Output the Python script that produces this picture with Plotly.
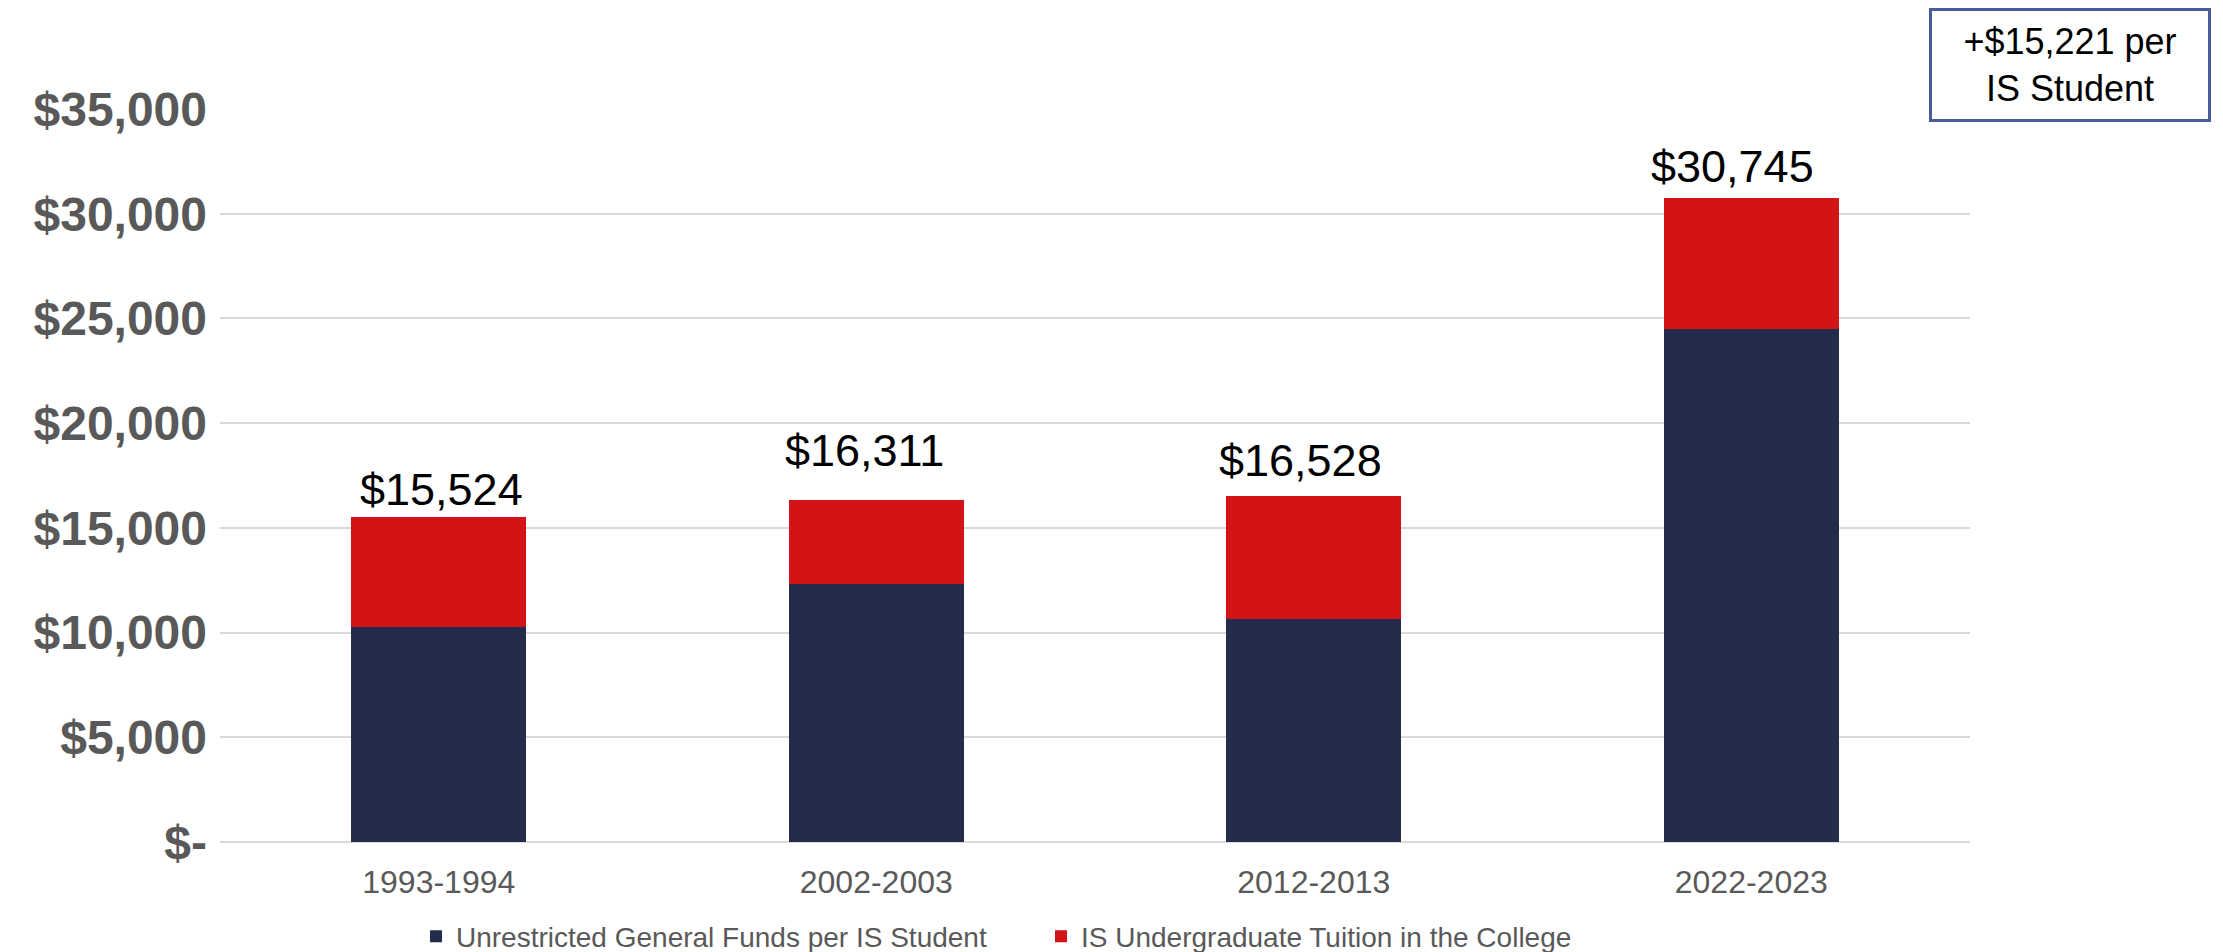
import plotly.graph_objects as go

categories = ["1993-1994", "2002-2003", "2012-2013", "2022-2023"]
general_funds = [10282, 12335, 10634, 24498]
tuition = [5242, 3976, 5894, 6247]
totals = [15524, 16311, 16528, 30745]
total_labels = ["$15,524", "$16,311", "$16,528", "$30,745"]
ytick_vals = [0, 5000, 10000, 15000, 20000, 25000, 30000, 35000]
ytick_text = ["$-", "$5,000", "$10,000", "$15,000", "$20,000", "$25,000", "$30,000", "$35,000"]
series_names = ["Unrestricted General Funds per IS Student", "IS Undergraduate Tuition in the College"]
callout_text = "+$15,221 per<br>IS Student"

# label offsets (style)
label_xshift = [3, -12, -13, -19]
label_yshift = [27, 50, 35, 32]

NAVY = "#242C4B"
RED = "#D21417"
FONT = "Liberation Sans, Arial, sans-serif"

fig = go.Figure()
fig.add_trace(go.Bar(x=categories, y=general_funds, name=series_names[0],
                     marker=dict(color=NAVY, line=dict(width=0))))
fig.add_trace(go.Bar(x=categories, y=tuition, name=series_names[1],
                     marker=dict(color=RED, line=dict(width=0))))

for i, c in enumerate(categories):
    fig.add_annotation(x=c, y=totals[i], text=total_labels[i], showarrow=False,
                       xshift=label_xshift[i], yshift=label_yshift[i],
                       font=dict(family=FONT, size=45, color="#000000"))

fig.add_annotation(xref="paper", yref="paper", x=1.057, y=1.06,
                   text=callout_text, showarrow=False,
                   xanchor="center", yanchor="middle",
                   width=268, height=100, align="center",
                   bordercolor="#4A5C9C", borderwidth=3, borderpad=4, bgcolor="white",
                   font=dict(family=FONT, size=36, color="#000000"))

fig.update_layout(
    width=2207, height=944,
    margin=dict(l=212, r=245, t=101, b=110, autoexpand=False),
    paper_bgcolor="white", plot_bgcolor="white",
    barmode="stack", bargap=0.6,
    font=dict(family=FONT),
    showlegend=True,
    legend=dict(orientation="h", x=0.112, y=-0.129, xanchor="left", yanchor="middle",
                font=dict(family=FONT, size=28, color="#595959"),
                traceorder="normal", entrywidth=580, entrywidthmode="pixels",
                itemsizing="constant"),
)
fig.update_yaxes(range=[0, 35000], tickvals=ytick_vals, ticktext=ytick_text,
                 showgrid=True, gridcolor="#D9D9D9", gridwidth=2,
                 zeroline=True, zerolinecolor="#D9D9D9", zerolinewidth=2,
                 showline=False, ticks="", ticklabelstandoff=12,
                 tickfont=dict(family=FONT, size=48, color="#595959", weight="bold"))
fig.update_xaxes(showgrid=False, showline=False, ticks="", ticklabelstandoff=18,
                 tickfont=dict(family=FONT, size=32, color="#595959"))

fig.write_html("out.html")
